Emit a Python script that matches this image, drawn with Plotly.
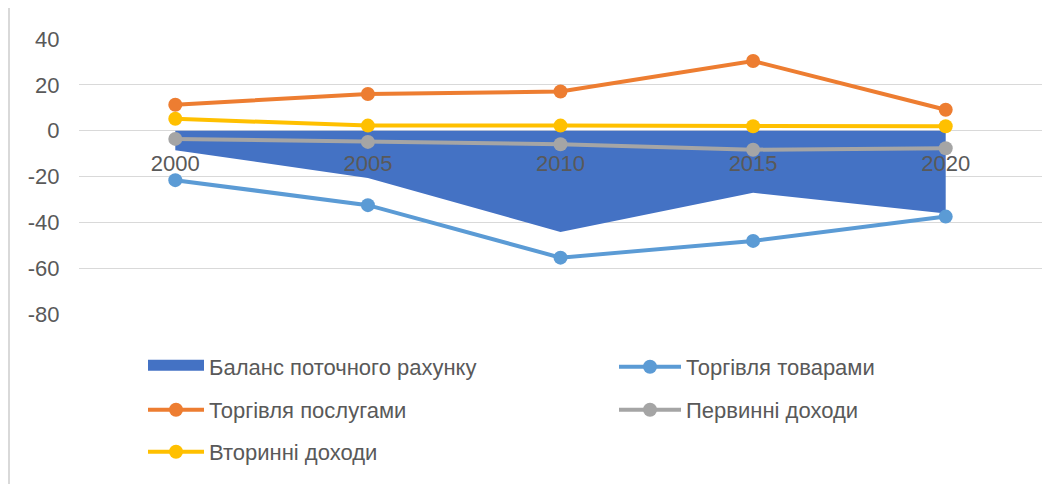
import plotly.graph_objects as go

years = ['2000', '2005', '2010', '2015', '2020']
balance = [-8.5, -20.6, -44.2, -27.1, -36.1]
goods = [-21.6, -32.5, -55.4, -48.1, -37.5]
services = [11.3, 16.0, 17.1, 30.4, 9.1]
primary = [-3.6, -4.9, -5.9, -8.3, -7.7]
secondary = [5.2, 2.2, 2.2, 1.9, 1.9]

names = ['Баланс поточного рахунку', 'Торгівля товарами', 'Торгівля послугами',
         'Первинні доходи', 'Вторинні доходи']
y_ticks = [-80, -60, -40, -20, 0, 20, 40]
y_ticktext = [str(v) for v in y_ticks]

# page body has an 8px margin, so figure coords = reference coords - 8
ML, MT, PW, PH = 71, 31, 963, 275
W, H = 1061, 484

def px_x(p):
    return (p - 8 - ML) / PW

def px_y(p):
    return (MT + PH - (p - 8)) / PH

fig = go.Figure()
# area (drawn, legend via proxy entry below)
fig.add_trace(go.Scatter(x=years, y=balance, name=names[0], mode='lines',
                         line=dict(width=0, color='#4472C4'), fill='tozeroy',
                         fillcolor='#4472C4', showlegend=False))
fig.add_trace(go.Scatter(x=[years[0]], y=[None], name=names[0], mode='lines',
                         line=dict(width=10, color='#4472C4'), fill='tozeroy',
                         fillcolor='#4472C4', legend='legend', showlegend=True))
line_series = [(goods, names[1], '#5B9BD5', 'legend2'),
               (services, names[2], '#ED7D31', 'legend3'),
               (primary, names[3], '#A5A5A5', 'legend4'),
               (secondary, names[4], '#FFC000', 'legend5')]
for vals, nm, col, lg in line_series:
    fig.add_trace(go.Scatter(x=years, y=vals, name=nm, mode='lines+markers',
                             line=dict(color=col, width=4),
                             marker=dict(color=col, size=14), legend=lg))

def leg(xp, yp, iw=56):
    return dict(orientation='h', x=px_x(xp), y=px_y(yp), xanchor='left', yanchor='middle',
                itemwidth=iw, font=dict(size=22, color='#595959'),
                bgcolor='rgba(0,0,0,0)', borderwidth=0)

col1, col2 = 143, 614
rows = [367, 410, 452]
fig.update_layout(
    width=W, height=H,
    margin=dict(l=ML, r=W - ML - PW, t=MT, b=H - MT - PH, autoexpand=False),
    plot_bgcolor='white', paper_bgcolor='white',
    font=dict(family='Liberation Sans', size=22, color='#595959'),
    showlegend=True,
    legend=leg(col1, rows[0]),
    legend2=leg(col2, rows[0], 62),
    legend3=leg(col1, rows[1]),
    legend4=leg(col2, rows[1], 62),
    legend5=leg(col1, rows[2]),
    xaxis=dict(type='category', range=[-0.5, 4.5], anchor='free', position=2/3,
               showgrid=False, showline=False, zeroline=False,
               ticks='outside', ticklen=13, tickcolor='rgba(0,0,0,0)',
               tickfont=dict(size=22, color='#595959')),
    yaxis=dict(range=[-80, 40], tickvals=y_ticks, ticktext=y_ticktext,
               showgrid=True, gridcolor='#D9D9D9',
               gridwidth=1, zeroline=False, showline=False,
               ticks='outside', ticklen=14, tickcolor='rgba(0,0,0,0)',
               tickfont=dict(size=22, color='#595959')),
    shapes=[dict(type='line', xref='paper', yref='paper',
                 x0=px_x(9), x1=px_x(9), y0=px_y(500), y1=px_y(0),
                 line=dict(color='#D9D9D9', width=2))],
)
fig.write_html('out.html')
